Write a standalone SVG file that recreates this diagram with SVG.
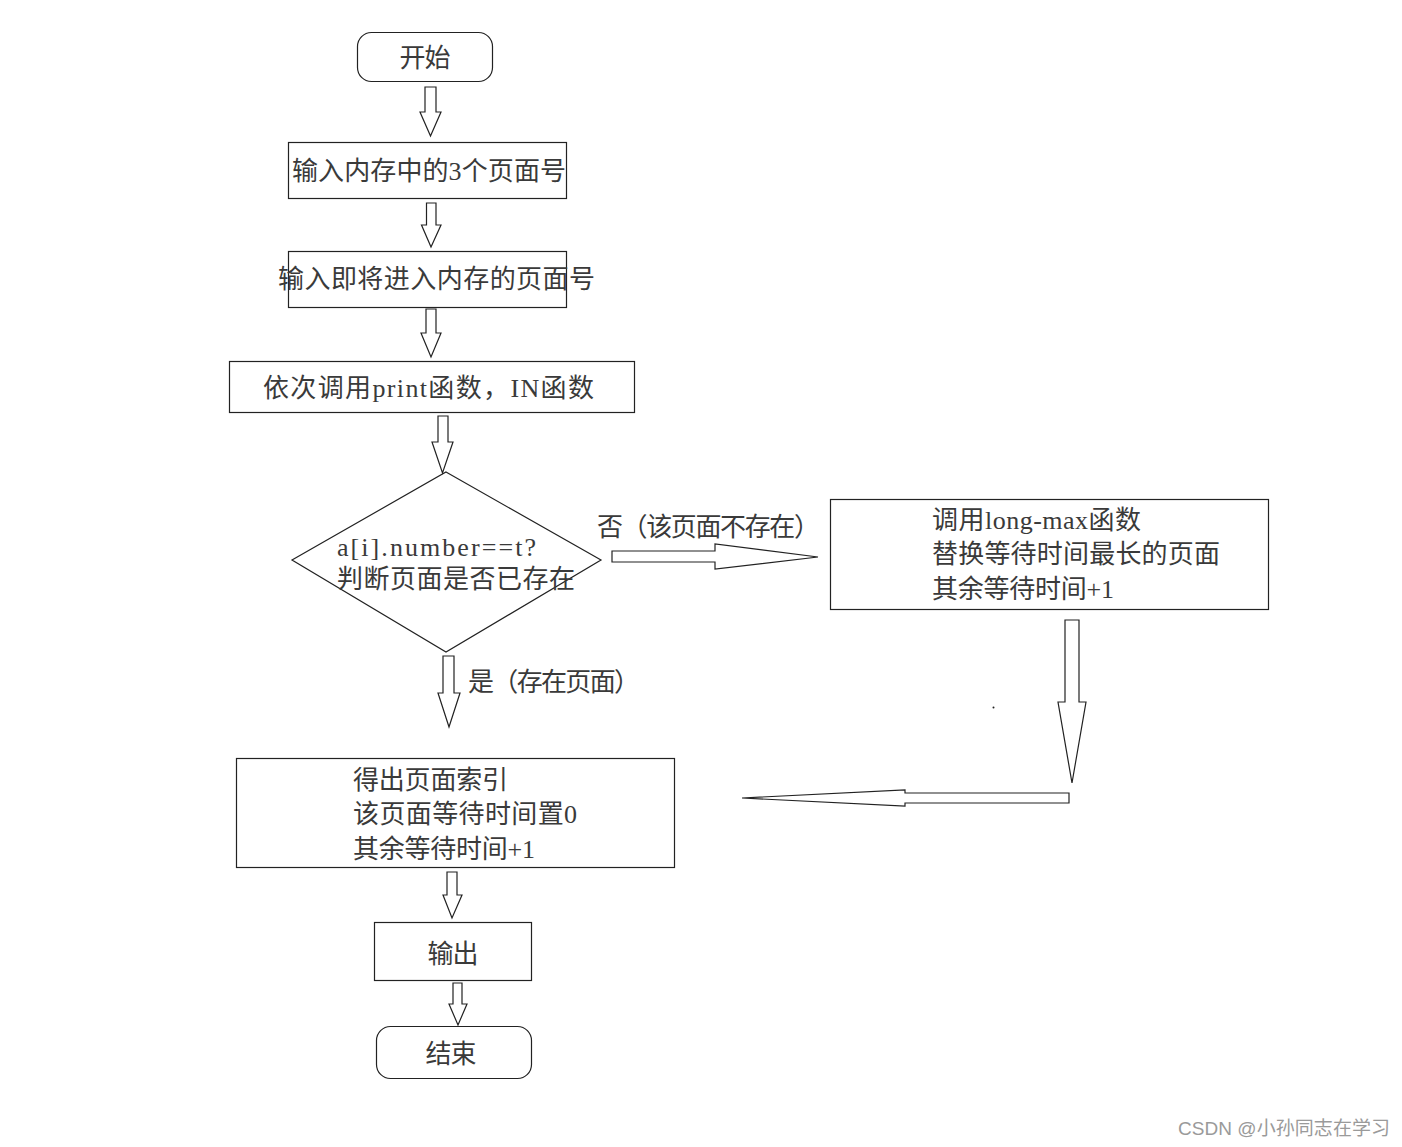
<svg xmlns="http://www.w3.org/2000/svg" width="1402" height="1147" viewBox="0 0 1402 1147">
<style>
.box{fill:#fff;stroke:#222;stroke-width:1.2}
.arr{fill:#fff;stroke:#222;stroke-width:1.2;stroke-linejoin:miter}
.t{font-family:"Liberation Serif","Noto Sans CJK SC",serif;font-size:26px;fill:#3a3a3a}
.c{text-anchor:middle}
.wm{font-family:"Liberation Sans","Noto Sans CJK SC",sans-serif;font-size:19px;fill:#9a9a9a}
</style>
<rect width="1402" height="1147" fill="#fff"/>
<g id="start">
<rect class="box" x="357.5" y="32.5" width="135" height="49" rx="14"/>
<text class="t c" x="425" y="67" textLength="51">开始</text>
</g>
<g id="input3">
<rect class="box" x="288.5" y="142.5" width="278" height="56"/>
<text class="t" x="292" y="180" textLength="274">输入内存中的3个页面号</text>
</g>
<g id="inputNext">
<rect class="box" x="288.5" y="251.5" width="278" height="56"/>
<text class="t" x="278" y="288" textLength="317">输入即将进入内存的页面号</text>
</g>
<g id="callPrint">
<rect class="box" x="229.5" y="361.5" width="405" height="51"/>
<text class="t" x="263" y="397" textLength="331">依次调用print函数，IN函数</text>
</g>
<g id="decision">
<polygon class="box" points="446,472 601,560 446,652 292,560"/>
<text class="t" x="337" y="556" textLength="199">a[i].number==t?</text>
<text class="t" x="337" y="588" textLength="238">判断页面是否已存在</text>
</g>
<g id="replace">
<rect class="box" x="830.5" y="499.5" width="438" height="110"/>
<text class="t" x="932" y="529" textLength="209">调用long-max函数</text>
<text class="t" x="932" y="563" textLength="288">替换等待时间最长的页面</text>
<text class="t" x="932" y="598" textLength="182">其余等待时间+1</text>
</g>
<g id="found">
<rect class="box" x="236.5" y="758.5" width="438" height="109"/>
<text class="t" x="353" y="789" textLength="155">得出页面索引</text>
<text class="t" x="353" y="823" textLength="224">该页面等待时间置0</text>
<text class="t" x="353" y="858" textLength="182">其余等待时间+1</text>
</g>
<g id="output">
<rect class="box" x="374.5" y="922.5" width="157" height="58"/>
<text class="t c" x="453" y="963" textLength="51">输出</text>
</g>
<g id="end">
<rect class="box" x="376.5" y="1026.5" width="155" height="52" rx="14"/>
<text class="t c" x="451" y="1063" textLength="51">结束</text>
</g>
<g id="connectors">
<polygon class="arr" points="425,87 436,87 436,112 441,112 430.5,136 420,112 425,112"/>
<polygon class="arr" points="426.5,203 436,203 436,225 441,225 431,247 421.5,225 426.5,225"/>
<polygon class="arr" points="426,309 436,309 436,333 441,333 431,357 421,333 426,333"/>
<polygon class="arr" points="438,416 448,416 448,442 453,442 442.5,473 432,442 438,442"/>
<polygon class="arr" points="443,656 454,656 454,693 460,693 449,727 438,693 443,693"/>
<polygon class="arr" points="612,551 715,551 715,544 818,557 715,569 715,562 612,562"/>
<polygon class="arr" points="1065,620 1079,620 1079,702 1086,702 1072,783 1058,702 1065,702"/>
<polygon class="arr" points="1069,793 905,793 905,790 742,798 905,806 905,803 1069,803"/>
<polygon class="arr" points="447,872 457,872 457,895 462,895 452,918 443,895 447,895"/>
<polygon class="arr" points="453,983 462,983 462,1004 467,1004 458,1025 449,1004 453,1004"/>
<text class="t" x="597" y="536" textLength="223">否（该页面不存在）</text>
<text class="t" x="468" y="691" textLength="172">是（存在页面）</text>
</g>
<circle cx="993.5" cy="707.5" r="1" fill="#222"/>
<text class="wm" x="1178" y="1135" textLength="212">CSDN @小孙同志在学习</text>
</svg>
